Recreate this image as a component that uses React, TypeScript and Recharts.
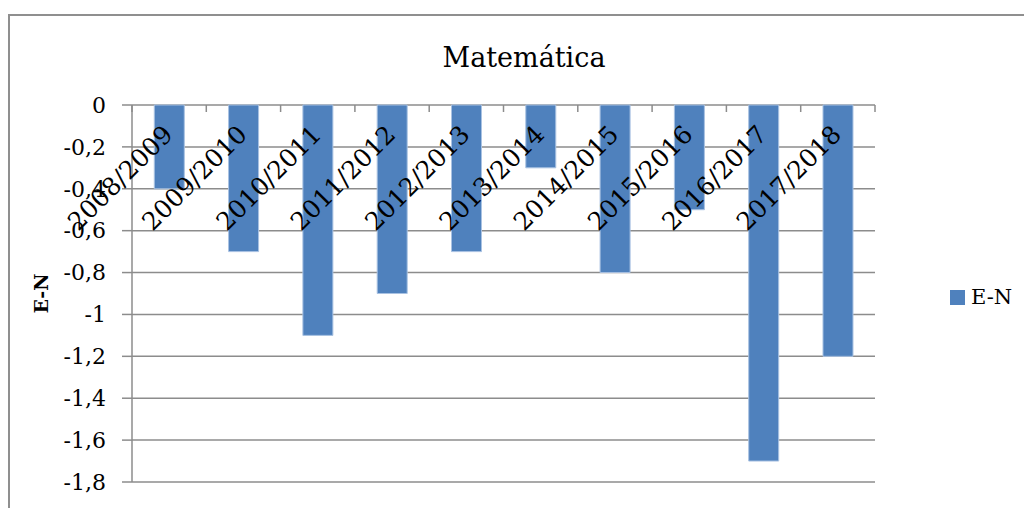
import { BarChart, Bar, XAxis, YAxis, CartesianGrid, Legend } from "recharts";

const categories = [
  "2008/2009", "2009/2010", "2010/2011", "2011/2012", "2012/2013",
  "2013/2014", "2014/2015", "2015/2016", "2016/2017", "2017/2018",
];
const enValues = [-0.4, -0.7, -1.1, -0.9, -0.7, -0.3, -0.8, -0.5, -1.7, -1.2];
const yTicks = [0, -0.2, -0.4, -0.6, -0.8, -1, -1.2, -1.4, -1.6, -1.8];

const data = categories.map((name, i) => ({ name, en: enValues[i] }));

const FONT = "'DejaVu Serif', serif";
const GRID = "#8c8c8c";
const BAR = "#4F81BD";

// label drawn over the bars, plus the short boundary ticks hanging from the zero line
function CategoryTick(props: any) {
  const { x, y, payload, index, width, visibleTicksCount } = props;
  const count = visibleTicksCount || categories.length;
  const half = width / count / 2;
  const ax = x + 5;
  const ay = y + 31;
  return (
    <g>
      <line x1={x - half} x2={x - half} y1={y} y2={y + 7} stroke={GRID} strokeWidth={1.5} />
      {index === count - 1 && (
        <line x1={x + half} x2={x + half} y1={y} y2={y + 7} stroke={GRID} strokeWidth={1.5} />
      )}
      <text
        x={ax}
        y={ay}
        transform={`rotate(-45, ${ax}, ${ay})`}
        textAnchor="end"
        fontFamily={FONT}
        fontSize={25}
        fill="#000"
      >
        {payload.value}
      </text>
    </g>
  );
}

function LegendBox() {
  return (
    <div style={{ display: "flex", alignItems: "center", fontFamily: FONT, fontSize: 21, color: "#000" }}>
      <span style={{ width: 15, height: 15, background: BAR, display: "inline-block", marginRight: 6 }} />
      <span>E-N</span>
    </div>
  );
}

export default function App() {
  return (
    <div style={{ position: "absolute", left: 0, top: 0, width: 1024, height: 508, overflow: "hidden", background: "#fff" }}>
      <div
        style={{
          position: "absolute", left: 8, top: 14, width: 1100, height: 600,
          borderTop: "2px solid #8f8f8f", borderLeft: "2px solid #8f8f8f",
        }}
      />
      <div
        style={{
          position: "absolute", left: 0, top: 44, width: 1048, textAlign: "center",
          fontFamily: FONT, fontSize: 27, lineHeight: "27px", color: "#000",
        }}
      >
        Matemática
      </div>
      <div style={{ position: "absolute", left: 0, top: 0 }}>
        <BarChart
          width={1024}
          height={508}
          data={data}
          margin={{ top: 104, right: 149, bottom: 26, left: 0 }}
          barCategoryGap="30%"
        >
          <CartesianGrid vertical={false} stroke={GRID} strokeWidth={1.5} />
          <YAxis
            width={132}
            domain={[-1.8, 0]}
            ticks={yTicks}
            interval={0}
            tickSize={10}
            tickMargin={16}
            axisLine={{ stroke: GRID, strokeWidth: 1.5 }}
            tickLine={{ stroke: GRID, strokeWidth: 1.5 }}
            tick={{ fontFamily: FONT, fontSize: 22, fill: "#000" }}
            tickFormatter={(v: number) => String(v).replace(".", ",")}
            label={(p: any) => (
              <text
                x={48}
                y={p.viewBox.y + p.viewBox.height / 2}
                transform={`rotate(-90, 48, ${p.viewBox.y + p.viewBox.height / 2})`}
                textAnchor="middle"
                fontFamily={FONT}
                fontWeight="bold"
                fontSize={19}
                fill="#000"
              >
                E-N
              </text>
            )}
          />
          <Legend
            layout="vertical"
            align="center"
            verticalAlign="middle"
            content={<LegendBox />}
            wrapperStyle={{ left: 950, top: 285, width: 80 }}
          />
          <Bar dataKey="en" name="E-N" fill={BAR} stroke="#a9c2e2" strokeWidth={1} isAnimationActive={false} />
          <XAxis
            dataKey="name"
            orientation="top"
            height={1}
            tickSize={0}
            tickMargin={0}
            axisLine={false}
            tickLine={false}
            interval={0}
            tick={<CategoryTick />}
          />
        </BarChart>
      </div>
    </div>
  );
}
